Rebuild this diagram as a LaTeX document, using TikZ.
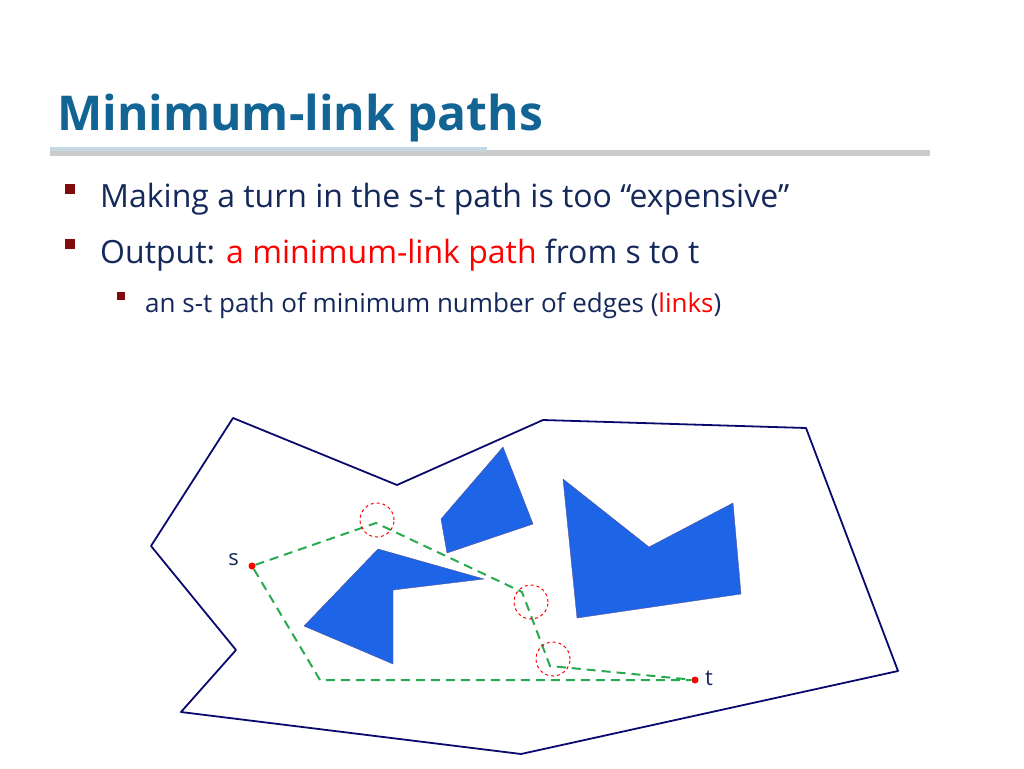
\documentclass[tikz,border=0pt]{standalone}
\usepackage{fontspec}
\setmainfont{Open Sans}
\usetikzlibrary{positioning}
\definecolor{titleblue}{RGB}{18,100,148}
\definecolor{navy}{RGB}{10,10,110}
\definecolor{obst}{RGB}{30,100,230}
\definecolor{pathgreen}{RGB}{40,170,80}
\definecolor{bulletred}{RGB}{130,10,10}
\definecolor{textblue}{RGB}{20,40,90}
\tikzset{
  wall/.style={draw=navy, line width=1.8pt, line join=round},
  obstacle/.style={fill=obst, draw=navy!70, line width=0.4pt},
  link/.style={draw=pathgreen, line width=2pt, dash pattern=on 9pt off 6pt},
  turn/.style={circle, draw=red, dashed, line width=1pt, minimum size=34pt, inner sep=0pt},
  pt/.style={circle, fill=red, inner sep=0pt, minimum size=7pt},
  bullet/.style={fill=bulletred, inner sep=0pt, minimum size=#1},
}
\begin{document}
\begin{tikzpicture}[x=1pt,y=-1pt]
  \useasboundingbox (0,0) rectangle (1024,768);
  % title
  \node[anchor=base west, inner sep=0pt, text=titleblue, font=\fontsize{48}{56}\selectfont\bfseries] (title) at (57,130) {Minimum-link paths};
  \fill[black!20] (50,150) rectangle (930,156);
  \fill[titleblue!25] (50,147) rectangle (487,151);
  % bullets
  \node[bullet=10pt] (b1) at (70,189) {};
  \node[anchor=base west, inner sep=0pt, text=textblue, font=\fontsize{32}{38}\selectfont] (t1) at (100,207) {Making a turn in the s-t path is too “expensive”};
  \node[bullet=10pt] (b2) at (70,244) {};
  \node[anchor=base west, inner sep=0pt, text=textblue, font=\fontsize{32}{38}\selectfont] (t2) at (100,263) {Output: \textcolor{red}{a minimum-link path} from s to t};
  \node[bullet=8pt] (b3) at (121,296) {};
  \node[anchor=base west, inner sep=0pt, text=textblue, font=\fontsize{26}{30}\selectfont] (t3) at (145,312) {an s-t path of minimum number of edges (\textcolor{red}{links})};
  % domain
  \draw[wall] (233,418) -- (397,485) -- (543,420) -- (806,428) -- (898,671) -- (521,754)
    -- (181,712) -- (236,650) -- (151,546) -- cycle;
  \draw[obstacle] (441,519) -- (503,447) -- (533,524) -- (447,553) -- cycle;
  \draw[obstacle] (563,479) -- (649,547) -- (733,503) -- (741,594) -- (577,618) -- cycle;
  \draw[obstacle] (304,626) -- (378,549) -- (484,579) -- (393,590) -- (393,664) -- cycle;
  % points and links
  \node[pt] (s) at (252,566) {};
  \node[pt] (t) at (695,680) {};
  \node[left=6pt of s, yshift=6pt, font=\fontsize{22}{26}\selectfont, text=textblue] (sl) {s};
  \node[right=3pt of t, yshift=2pt, font=\fontsize{22}{26}\selectfont, text=textblue] (tl) {t};
  \coordinate (p1) at (376,523);
  \coordinate (p2) at (522,592);
  \coordinate (p3) at (550,666);
  \coordinate (q1) at (320,680);
  \draw[link] (s) -- (p1) -- (p2) -- (p3) -- (t);
  \draw[link] (s) -- (q1) -- (t);
  \node[turn] (c1) at (377,520) {};
  \node[turn] (c2) at (531,602) {};
  \node[turn] (c3) at (553,659) {};
\end{tikzpicture}
\end{document}
